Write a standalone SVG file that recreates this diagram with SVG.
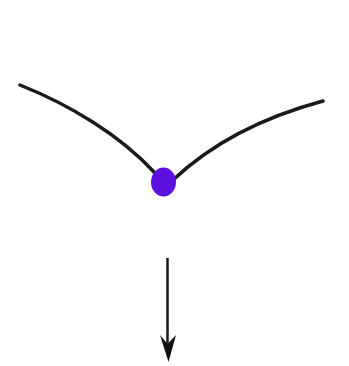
<svg xmlns="http://www.w3.org/2000/svg" width="349" height="366" viewBox="0 0 349 366">
<defs>
<style>
.curve{fill:none;stroke:#1a1a1a;stroke-width:3.5;stroke-linecap:round}
</style>
</defs>
<rect width="349" height="366" fill="#ffffff"/>
<g id="connectors">
<path class="curve" d="M20,85 C70,105 120,135 155,173"/>
<path class="curve" d="M173,180 C210,145 260,118 323,101"/>
<line x1="167.5" y1="258" x2="167.5" y2="345" stroke="#1a1a1a" stroke-width="2.5"/>
<path d="M160,335 L167.5,344 L176,335 L168.5,362 Z" fill="#111"/>
</g>
<g id="dot">
<ellipse cx="163.5" cy="182" rx="12.5" ry="14.5" fill="#5b10e0"/>
</g>
</svg>
